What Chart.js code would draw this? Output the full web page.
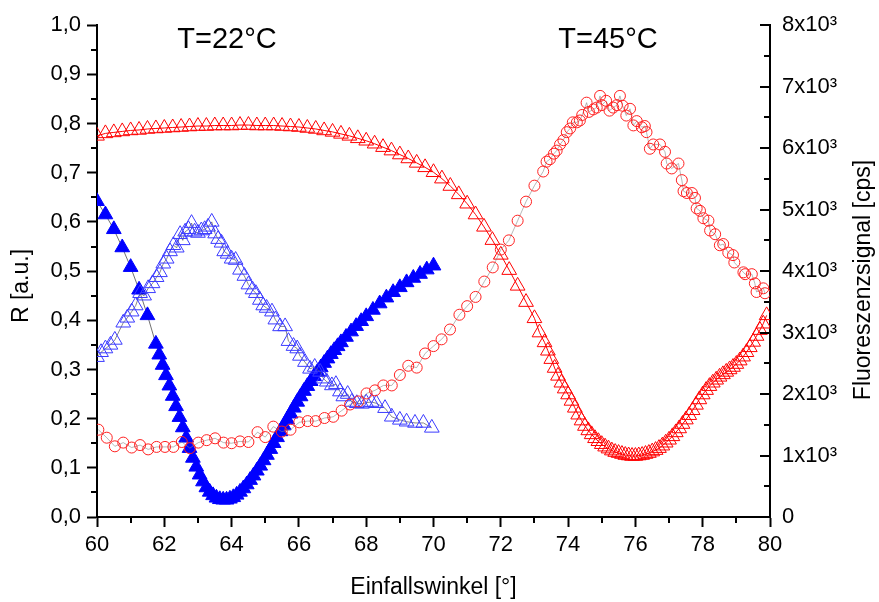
<!DOCTYPE html>
<html>
<head>
<meta charset="utf-8">
<script src="https://cdn.jsdelivr.net/npm/chart.js@4.4.0/dist/chart.umd.min.js"></script>
<style>
  html, body { margin: 0; padding: 0; background: #fff; }
</style>
</head>
<body>
<canvas id="chart" width="879" height="602"></canvas>
<script>
const FONT = "'Liberation Sans', Arial, sans-serif";

// 22°C, reflectivity R (left axis) - filled blue triangles
const r22Angle = [60.0, 60.25, 60.5, 60.75, 61.0, 61.25, 61.5, 61.75, 61.85, 61.95, 62.05, 62.15, 62.25, 62.35, 62.45, 62.55, 62.65, 62.75, 62.85, 62.95,
  63.05, 63.15, 63.25, 63.35, 63.45, 63.55, 63.65, 63.75, 63.85, 63.95, 64.05, 64.15, 64.25, 64.35, 64.45, 64.55, 64.65, 64.75, 64.85, 64.95,
  65.05, 65.15, 65.25, 65.35, 65.45, 65.55, 65.65, 65.75, 65.85, 65.95, 66.05, 66.15, 66.25, 66.35, 66.45, 66.55, 66.65, 66.75, 66.85, 66.95,
  67.05, 67.15, 67.25, 67.4, 67.55, 67.7, 67.85, 68.0, 68.2, 68.4, 68.6, 68.8, 69.0, 69.2, 69.4, 69.6, 69.8, 70.0];
const r22Value = [0.642, 0.615, 0.585, 0.548, 0.508, 0.462, 0.41, 0.352, 0.33, 0.309, 0.288, 0.267, 0.246, 0.225, 0.203, 0.182, 0.161, 0.14, 0.12, 0.102,
  0.086, 0.072, 0.06, 0.051, 0.044, 0.039, 0.036, 0.035, 0.035, 0.037, 0.04, 0.045, 0.051, 0.058, 0.066, 0.075, 0.084, 0.094, 0.104, 0.115,
  0.126, 0.138, 0.15, 0.162, 0.174, 0.186, 0.198, 0.21, 0.222, 0.234, 0.245, 0.256, 0.266, 0.276, 0.286, 0.295, 0.304, 0.313, 0.322, 0.331,
  0.339, 0.347, 0.355, 0.366, 0.377, 0.388, 0.398, 0.408, 0.421, 0.434, 0.446, 0.457, 0.467, 0.477, 0.486, 0.494, 0.503, 0.511];

// 22°C, fluorescence (right axis, cps) - open blue triangles
const f22Angle = [60.0, 60.12, 60.25, 60.4, 60.53, 60.78, 60.9, 61.03, 61.15, 61.28, 61.4, 61.52, 61.65, 61.77, 61.87, 61.97, 62.07, 62.17, 62.27, 62.37,
  62.47, 62.55, 62.62, 62.72, 62.81, 62.9, 63.0, 63.1, 63.2, 63.3, 63.41, 63.51, 63.6, 63.7, 63.78, 63.88, 64.0, 64.12, 64.25, 64.38,
  64.5, 64.62, 64.72, 64.84, 64.94, 65.04, 65.2, 65.3, 65.44, 65.59, 65.69, 65.84, 65.95, 66.03, 66.18, 66.33, 66.47, 66.63, 66.73, 66.83,
  66.98, 67.1, 67.22, 67.32, 67.45, 67.57, 67.72, 67.87, 68.0, 68.16, 68.3, 68.56, 68.76, 69.0, 69.2, 69.45, 69.7, 69.95];
const f22Value = [2600, 2680, 2740, 2800, 2880, 3160, 3240, 3340, 3440, 3640, 3600, 3720, 3800, 3900, 3980, 4120, 4200, 4320, 4420, 4380,
  4600, 4500, 4640, 4680, 4780, 4640, 4620, 4660, 4680, 4720, 4800, 4610, 4520, 4460, 4320, 4280, 4200, 4180, 4020, 3920,
  3780, 3700, 3640, 3530, 3440, 3400, 3340, 3210, 3100, 3100, 2860, 2780, 2740, 2620, 2520, 2410, 2440, 2360, 2250, 2200,
  2140, 2160, 2040, 1960, 2000, 1870, 1850, 1840, 1860, 1870, 1850, 1770, 1630, 1580, 1550, 1530, 1530, 1450];

// 45°C, reflectivity R (left axis) - open red triangles
const r45Angle = [60.0, 60.25, 60.5, 60.75, 61.0, 61.25, 61.5, 61.75, 62.0, 62.25, 62.5, 62.75, 63.0, 63.25, 63.5, 63.75, 64.0, 64.25, 64.5, 64.75,
  65.0, 65.25, 65.5, 65.75, 66.0, 66.25, 66.5, 66.75, 67.0, 67.25, 67.5, 67.75, 68.0, 68.25, 68.5, 68.75, 69.0, 69.25, 69.5, 69.75,
  70.0, 70.25, 70.5, 70.75, 71.0, 71.25, 71.5, 71.75, 72.0, 72.25, 72.5, 72.75, 73.0, 73.15, 73.3, 73.4, 73.5, 73.6, 73.7, 73.8,
  73.9, 74.0, 74.1, 74.2, 74.3, 74.4, 74.5, 74.6, 74.7, 74.8, 74.9, 75.0, 75.1, 75.2, 75.3, 75.4, 75.5, 75.6, 75.7, 75.8,
  75.9, 76.0, 76.1, 76.2, 76.3, 76.4, 76.5, 76.6, 76.7, 76.8, 76.9, 77.0, 77.1, 77.2, 77.3, 77.4, 77.5, 77.6, 77.7, 77.8,
  77.9, 78.0, 78.1, 78.2, 78.3, 78.4, 78.5, 78.6, 78.7, 78.8, 78.9, 79.0, 79.1, 79.2, 79.3, 79.4, 79.5, 79.6, 79.7, 79.8, 79.9];
const r45Value = [0.775, 0.78, 0.782, 0.784, 0.786, 0.787, 0.789, 0.79, 0.791, 0.792, 0.793, 0.794, 0.795, 0.795, 0.796, 0.796, 0.796, 0.797, 0.797, 0.796,
  0.796, 0.796, 0.795, 0.794, 0.793, 0.791, 0.789, 0.786, 0.783, 0.779, 0.775, 0.77, 0.765, 0.759, 0.752, 0.745, 0.737, 0.729, 0.72, 0.711,
  0.701, 0.688, 0.673, 0.656, 0.637, 0.615, 0.59, 0.563, 0.533, 0.502, 0.47, 0.437, 0.404, 0.375, 0.355, 0.338, 0.321, 0.303, 0.287, 0.273,
  0.261, 0.249, 0.236, 0.222, 0.208, 0.196, 0.185, 0.176, 0.168, 0.16, 0.154, 0.148, 0.143, 0.139, 0.135, 0.132, 0.13, 0.128, 0.126, 0.125,
  0.124, 0.124, 0.125, 0.126, 0.128, 0.13, 0.133, 0.136, 0.14, 0.145, 0.151, 0.157, 0.164, 0.172, 0.18, 0.189, 0.198, 0.207, 0.217, 0.228,
  0.239, 0.249, 0.258, 0.266, 0.273, 0.279, 0.285, 0.29, 0.295, 0.3, 0.305, 0.311, 0.318, 0.326, 0.335, 0.345, 0.356, 0.368, 0.38, 0.393, 0.41];

// 45°C, fluorescence (right axis, cps) - open red circles
const f45Angle = [60.04, 60.29, 60.53, 60.78, 61.03, 61.28, 61.52, 61.77, 62.02, 62.27, 62.52, 62.76, 63.01, 63.26, 63.51, 63.76, 64.0, 64.25, 64.5, 64.77,
  65.0, 65.24, 65.49, 65.75, 66.01, 66.26, 66.5, 66.76, 67.02, 67.27, 67.52, 67.77, 68.01, 68.26, 68.51, 68.76, 69.0, 69.25, 69.5, 69.75,
  70.0, 70.24, 70.49, 70.77, 71.0, 71.25, 71.51, 71.76, 72.0, 72.24, 72.5, 72.75, 73.0, 73.26, 73.36, 73.46, 73.58, 73.66, 73.76, 73.86,
  73.96, 74.06, 74.14, 74.26, 74.35, 74.42, 74.55, 74.62, 74.75, 74.85, 74.95, 75.0, 75.13, 75.23, 75.34, 75.45, 75.54, 75.62, 75.73, 75.84,
  75.94, 76.04, 76.19, 76.28, 76.33, 76.43, 76.53, 76.73, 76.88, 76.93, 77.08, 77.28, 77.38, 77.43, 77.53, 77.68, 77.77, 77.82, 77.92, 78.02,
  78.17, 78.22, 78.37, 78.51, 78.61, 78.76, 78.9, 78.94, 79.21, 79.26, 79.46, 79.55, 79.6, 79.8, 79.85];
const f45Value = [1420, 1290, 1150, 1210, 1130, 1170, 1100, 1140, 1140, 1140, 1220, 1120, 1210, 1250, 1280, 1210, 1200, 1230, 1220, 1380,
  1300, 1470, 1390, 1420, 1540, 1560, 1560, 1610, 1630, 1730, 1830, 1880, 2010, 2060, 2140, 2140, 2310, 2460, 2430, 2660,
  2780, 2890, 3050, 3290, 3430, 3580, 3830, 4060, 4350, 4500, 4820, 5130, 5390, 5620, 5780, 5820, 5910, 5960, 6060, 6130,
  6260, 6320, 6420, 6420, 6450, 6540, 6740, 6590, 6630, 6660, 6850, 6700, 6770, 6610, 6660, 6700, 6850, 6690, 6530, 6640,
  6370, 6440, 6340, 6360, 6260, 5990, 6060, 6060, 5940, 5750, 5670, 5750, 5480, 5300, 5270, 5270, 5190, 5020, 4980, 4860,
  4820, 4660, 4600, 4420, 4440, 4300, 4260, 4140, 3980, 3950, 3950, 3800, 3660, 3720, 3640];

const xTicks = [60, 62, 64, 66, 68, 70, 72, 74, 76, 78, 80];

function pts(xs, ys) {
  return xs.map((x, i) => ({ x: x, y: ys[i] }));
}

// minor ticks, inward right-axis ticks, rotated axis titles and the temperature labels
const extrasPlugin = {
  id: "extras",
  afterDraw(chart) {
    const c = chart.ctx;
    const xs = chart.scales.x, yl = chart.scales.y, yr = chart.scales.y2;
    const area = chart.chartArea;
    c.save();
    c.strokeStyle = "#000";
    c.lineWidth = 2;
    c.beginPath();
    for (let v = 61; v < 80; v += 2) {
      const px = Math.round(xs.getPixelForValue(v));
      c.moveTo(px, area.bottom);
      c.lineTo(px, area.bottom + 6);
    }
    for (let i = 0; i < 10; i++) {
      const py = Math.round(yl.getPixelForValue(0.05 + i * 0.1));
      c.moveTo(area.left, py);
      c.lineTo(area.left - 6, py);
    }
    for (let v = 0; v <= 8000; v += 500) {
      const py = Math.round(yr.getPixelForValue(v));
      const len = v % 1000 === 0 ? 10 : 6;
      c.moveTo(area.right, py);
      c.lineTo(area.right - len, py);
    }
    c.stroke();

    c.fillStyle = "#000";
    c.textAlign = "center";
    c.textBaseline = "middle";
    c.font = "23px " + FONT;
    c.save();
    c.translate(22, 286);
    c.rotate(-Math.PI / 2);
    c.fillText("R [a.u.]", 0, 0);
    c.restore();
    c.save();
    c.translate(864, 280);
    c.rotate(-Math.PI / 2);
    c.fillText("Fluoreszenzsignal [cps]", 0, 0);
    c.restore();

    c.textBaseline = "alphabetic";
    c.font = "29px " + FONT;
    c.fillText("T=22°C", 227, 48);
    c.fillText("T=45°C", 608, 48);
    c.restore();
  }
};

const tickFont = { size: 22, family: FONT };

new Chart(document.getElementById("chart"), {
  type: "scatter",
  data: {
    datasets: [
      {
        label: "R 22°C",
        data: pts(r22Angle, r22Value),
        yAxisID: "y",
        showLine: true,
        borderColor: "#333",
        borderWidth: 0.7,
        pointStyle: "triangle",
        pointRadius: 8.5,
        pointBackgroundColor: "#0000ff",
        pointBorderColor: "#0000ff",
        pointBorderWidth: 1,
        order: 4
      },
      {
        label: "F 22°C",
        data: pts(f22Angle, f22Value),
        yAxisID: "y2",
        showLine: true,
        borderColor: "#555",
        borderWidth: 0.7,
        pointStyle: "triangle",
        pointRadius: 8.5,
        pointBackgroundColor: "rgba(0,0,0,0)",
        pointBorderColor: "#3b3bff",
        pointBorderWidth: 1,
        order: 3
      },
      {
        label: "R 45°C",
        data: pts(r45Angle, r45Value),
        yAxisID: "y",
        showLine: true,
        borderColor: "#ff0000",
        borderWidth: 1,
        pointStyle: "triangle",
        pointRadius: 8.5,
        pointBackgroundColor: "rgba(0,0,0,0)",
        pointBorderColor: "#ff0000",
        pointBorderWidth: 1,
        order: 2
      },
      {
        label: "F 45°C",
        data: pts(f45Angle, f45Value),
        yAxisID: "y2",
        showLine: true,
        borderColor: "#888",
        borderWidth: 0.6,
        pointStyle: "circle",
        pointRadius: 5.5,
        pointBackgroundColor: "rgba(0,0,0,0)",
        pointBorderColor: "#ff2020",
        pointBorderWidth: 1,
        order: 1
      }
    ]
  },
  options: {
    responsive: false,
    animation: false,
    events: [],
    layout: { padding: { top: 18, right: 0, left: 0, bottom: 0 } },
    plugins: {
      legend: { display: false },
      tooltip: { enabled: false }
    },
    scales: {
      x: {
        type: "linear",
        min: 60,
        max: 80,
        afterBuildTicks: s => { s.ticks = xTicks.map(v => ({ value: v })); },
        ticks: { color: "#000", font: tickFont, padding: 5, maxRotation: 0, autoSkip: false },
        grid: { drawOnChartArea: false, drawTicks: true, tickLength: 10, tickWidth: 2, tickColor: "#000" },
        border: { display: true, color: "#000", width: 2 },
        title: { display: true, text: "Einfallswinkel [°]", color: "#000", font: { size: 23, family: FONT }, padding: { top: 0, bottom: 1 } },
        afterFit: s => { s.height = 85; }
      },
      y: {
        position: "left",
        min: 0,
        max: 1,
        ticks: {
          stepSize: 0.1,
          color: "#000",
          font: tickFont,
          padding: 6,
          callback: v => v.toFixed(1).replace(".", ",")
        },
        grid: { drawOnChartArea: false, drawTicks: true, tickLength: 10, tickWidth: 2, tickColor: "#000" },
        border: { display: true, color: "#000", width: 2 },
        afterFit: s => { s.width = 97; }
      },
      y2: {
        position: "right",
        min: 0,
        max: 8000,
        ticks: {
          stepSize: 1000,
          color: "#000",
          font: tickFont,
          padding: 12,
          callback: v => v === 0 ? "0" : (v / 1000) + "x10³"
        },
        grid: { drawOnChartArea: false, drawTicks: false },
        border: { display: true, color: "#000", width: 2 },
        afterFit: s => { s.width = 109; }
      }
    }
  },
  plugins: [extrasPlugin]
});
</script>
</body>
</html>
